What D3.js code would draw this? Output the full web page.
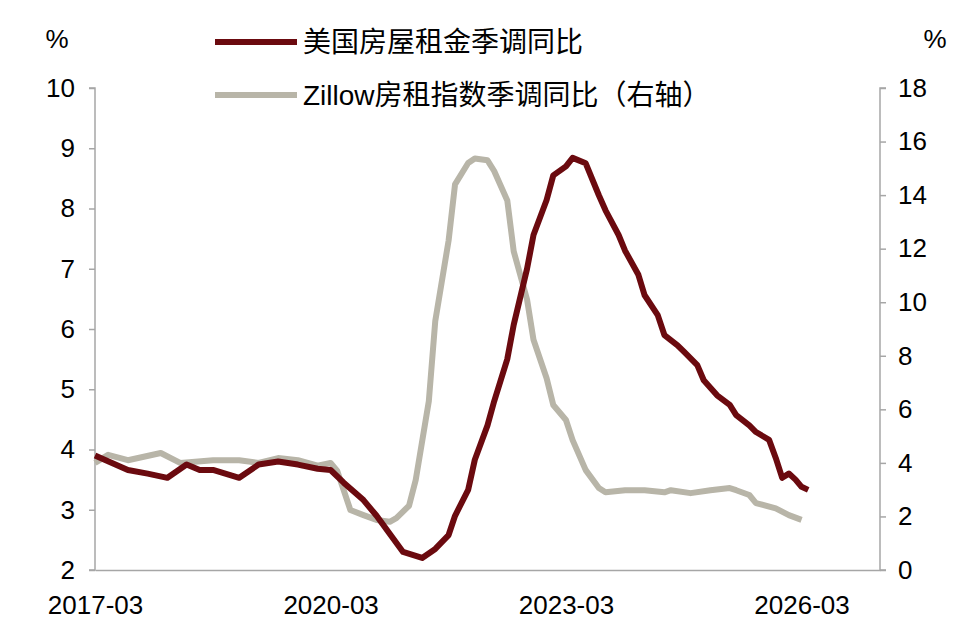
<!DOCTYPE html>
<html><head><meta charset="utf-8">
<script src="https://cdn.jsdelivr.net/npm/d3@7"></script>
<style>body{margin:0;background:#fff}text{font-family:"Liberation Sans",Arial,"Noto Sans CJK SC",sans-serif}</style>
</head><body>
<script>
// months counted from 2017-03
var rentMonths = [0,5,8,11,14,16,18,22,25,28,31,34,36,38,41,43,45,47,50,52,54,55,57,58,60,61,63,64,66,67,69,70,72,73,75,77,78,80,81,83,84,86,87,89,90,92,93,95,97,98,100,101,103,104,105,106,107,108,109],
    rentValues = [3.9,3.66,3.6,3.53,3.75,3.66,3.66,3.53,3.75,3.8,3.75,3.68,3.66,3.45,3.16,2.9,2.6,2.3,2.2,2.35,2.58,2.9,3.33,3.83,4.4,4.8,5.5,6.07,7.0,7.56,8.14,8.55,8.7,8.84,8.75,8.22,7.97,7.56,7.3,6.9,6.56,6.23,5.9,5.73,5.62,5.4,5.15,4.9,4.74,4.57,4.4,4.29,4.16,3.86,3.53,3.6,3.5,3.38,3.33],
    zillowMonths = [0,2,5,10,13,18,22,25,28,31,34,36,37,39,41,43,45,46,48,49,51,52,54,55,57,58,60,61,63,64,66,67,69,70,72,73,75,77,78,81,84,87,88,91,94,97,98,100,101,104,106,108],
    zillowValues = [4.0,4.3,4.1,4.37,4.0,4.1,4.1,4.0,4.18,4.1,3.9,4.0,3.7,2.24,2.05,1.87,1.8,1.94,2.4,3.36,6.3,9.3,12.3,14.4,15.2,15.37,15.3,14.9,13.8,11.9,10.1,8.6,7.16,6.16,5.6,4.85,3.73,3.06,2.9,2.98,2.98,2.9,2.98,2.87,2.98,3.06,2.98,2.8,2.5,2.3,2.05,1.87],
    xTicks = ['2017-03','2020-03','2023-03','2026-03'],
    leftTicks = [2,3,4,5,6,7,8,9,10],
    rightTicks = [0,2,4,6,8,10,12,14,16,18];

var W = 968, H = 630, L = 95, R = 880, T = 88, B = 570;
var parse = d3.timeParse('%Y-%m'), start = parse('2017-03');
function toDate(m) { return d3.timeMonth.offset(start, m); }

var x = d3.scaleTime().domain([start, parse('2027-03')]).range([L, R]);
var yl = d3.scaleLinear().domain([2, 10]).range([B, T]);
var yr = d3.scaleLinear().domain([0, 18]).range([B, T]);

var svg = d3.select('body').append('svg').attr('width', W).attr('height', H);

var ax = svg.append('g').attr('transform', 'translate(0,' + B + ')')
    .call(d3.axisBottom(x).tickValues(xTicks.map(parse)).tickFormat(d3.timeFormat('%Y-%m')).tickSize(0).tickPadding(26));
var al = svg.append('g').attr('transform', 'translate(' + L + ',0)')
    .call(d3.axisLeft(yl).tickValues(leftTicks).tickSize(6).tickPadding(14));
var ar = svg.append('g').attr('transform', 'translate(' + R + ',0)')
    .call(d3.axisRight(yr).tickValues(rightTicks).tickSize(6).tickPadding(12));
[ax, al, ar].forEach(function (g) {
    g.selectAll('path,line').attr('stroke', '#a6a6a6').attr('stroke-width', 1.5);
    g.selectAll('text').style('font-size', '26px').attr('fill', '#000');
});
al.select('.domain').attr('d', 'M-6,' + B + 'H0V' + T + 'H-6');
ar.select('.domain').attr('d', 'M6,' + B + 'H0V' + T + 'H6');

svg.append('text').attr('x', 57).attr('y', 48).attr('text-anchor', 'middle').style('font-size', '26px').text('%');
svg.append('text').attr('x', 935).attr('y', 48).attr('text-anchor', 'middle').style('font-size', '26px').text('%');

var lineL = d3.line().x(function (d) { return x(toDate(d[0])); }).y(function (d) { return yl(d[1]); });
var lineR = d3.line().x(function (d) { return x(toDate(d[0])); }).y(function (d) { return yr(d[1]); });

svg.append('path').datum(d3.zip(zillowMonths, zillowValues)).attr('d', lineR)
    .attr('fill', 'none').attr('stroke', '#b8b5a8').attr('stroke-width', 6).attr('stroke-linejoin', 'round');
svg.append('path').datum(d3.zip(rentMonths, rentValues)).attr('d', lineL)
    .attr('fill', 'none').attr('stroke', '#6b0a0f').attr('stroke-width', 6).attr('stroke-linejoin', 'round');

var legend = [['美国房屋租金季调同比', '#6b0a0f', 42], ['Zillow房租指数季调同比（右轴）', '#b8b5a8', 95]];
legend.forEach(function (d) {
    svg.append('line').attr('x1', 215).attr('x2', 297).attr('y1', d[2]).attr('y2', d[2])
        .attr('stroke', d[1]).attr('stroke-width', 6);
    svg.append('text').attr('x', 303).attr('y', d[2] + 10).style('font-size', '28px').text(d[0]);
});
</script>
</body></html>
